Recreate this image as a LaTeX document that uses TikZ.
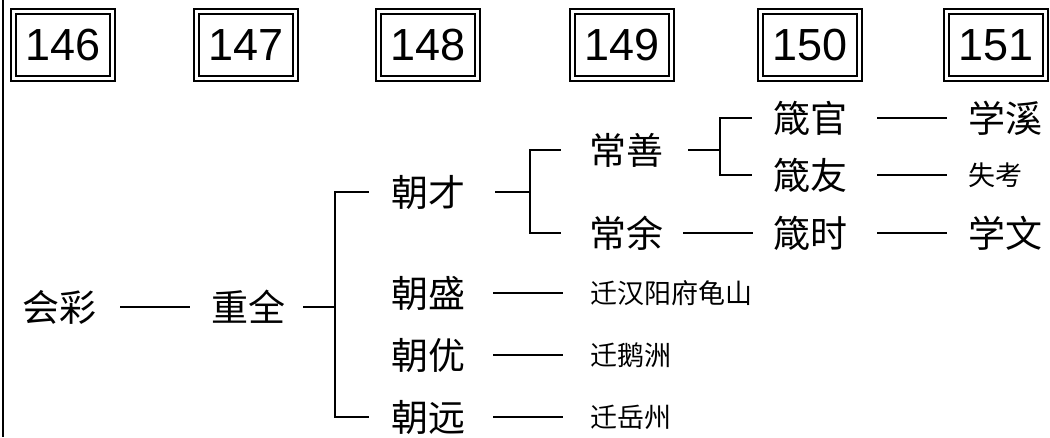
\documentclass[tikz,border=0pt]{standalone}
\usepackage{fontspec}
\setmainfont{Liberation Sans}
\newfontfamily\cjk{Noto Sans CJK SC}
\tikzset{
    num-box/.style = {draw, double, line width=2.2pt, double distance=3pt, minimum width=99pt, minimum height=67pt, inner sep=0pt, font=\fontsize{45}{45}\selectfont},
    big-name/.style = {inner sep=0pt, font=\cjk\fontsize{37}{37}\selectfont},
    small-name/.style = {inner sep=0pt, anchor=west, font=\cjk\fontsize{27}{27}\selectfont},
    link/.style = {line width=1.8pt},
}

\begin{document}
\begin{tikzpicture}[x=1pt, y=-1pt]
\useasboundingbox (0,0) rectangle (1050,437);
\draw[link] (3,0) -- (3,437);
% generations
\foreach \n/\x in {146/63, 147/246, 148/428, 149/622, 150/810, 151/996}
    \node[num-box] (g\n) at (\x,45) {\n};
% names
\node[big-name] (huicai) at (60,307) {会彩};
\node[big-name] (chongquan) at (248,307) {重全};
\node[big-name] (chaocai) at (428,192) {朝才};
\node[big-name] (chaosheng) at (428,293) {朝盛};
\node[big-name] (chaoyou) at (428,355) {朝优};
\node[big-name] (chaoyuan) at (428,417) {朝远};
\node[big-name] (changshan) at (626,150) {常善};
\node[big-name] (changyu) at (626,233) {常余};
\node[big-name] (jianguan) at (810,118) {箴官};
\node[big-name] (jianyou) at (810,175) {箴友};
\node[big-name] (jianshi) at (810,233) {箴时};
\node[big-name] (xuexi) at (1005,118) {学溪};
\node[small-name] (shikao) at (968,175) {失考};
\node[big-name] (xuewen) at (1005,233) {学文};
\node[small-name] (hanyang) at (590,293) {迁汉阳府龟山};
\node[small-name] (eshou) at (590,355) {迁鹅洲};
\node[small-name] (yuezhou) at (590,417) {迁岳州};
% forks
\coordinate (fork-a) at (335,307);
\coordinate (fork-b) at (530,192);
\coordinate (fork-c) at (720,150);
\draw[link, shorten <=23pt, shorten >=21pt] (huicai.east) -- (chongquan.west);
\draw[link, shorten <=18pt] (chongquan.east) -- (fork-a);
\draw[link, shorten <=22pt, shorten >=22pt] (chaocai.west) -| (fork-a) |- (chaoyuan.west);
\draw[link, shorten <=30pt] (chaocai.east) -- (fork-b);
\draw[link, shorten <=28pt, shorten >=28pt] (changshan.west) -| (fork-b) |- (changyu.west);
\draw[link, shorten <=25pt] (changshan.east) -- (fork-c);
\draw[link, shorten <=21pt, shorten >=21pt] (jianguan.west) -| (fork-c) |- (jianyou.west);
\draw[link, shorten <=20pt, shorten >=20pt] (changyu.east) -- (jianshi.west);
% descendants
\draw[link, shorten <=30pt, shorten >=21pt] (jianguan.east) -- (xuexi.west);
\draw[link, shorten <=30pt, shorten >=21pt] (jianyou.east) -- (shikao.west);
\draw[link, shorten <=30pt, shorten >=21pt] (jianshi.east) -- (xuewen.west);
\draw[link, shorten <=28pt, shorten >=27pt] (chaosheng.east) -- (hanyang.west);
\draw[link, shorten <=28pt, shorten >=27pt] (chaoyou.east) -- (eshou.west);
\draw[link, shorten <=28pt, shorten >=27pt] (chaoyuan.east) -- (yuezhou.west);
\end{tikzpicture}
\end{document}
